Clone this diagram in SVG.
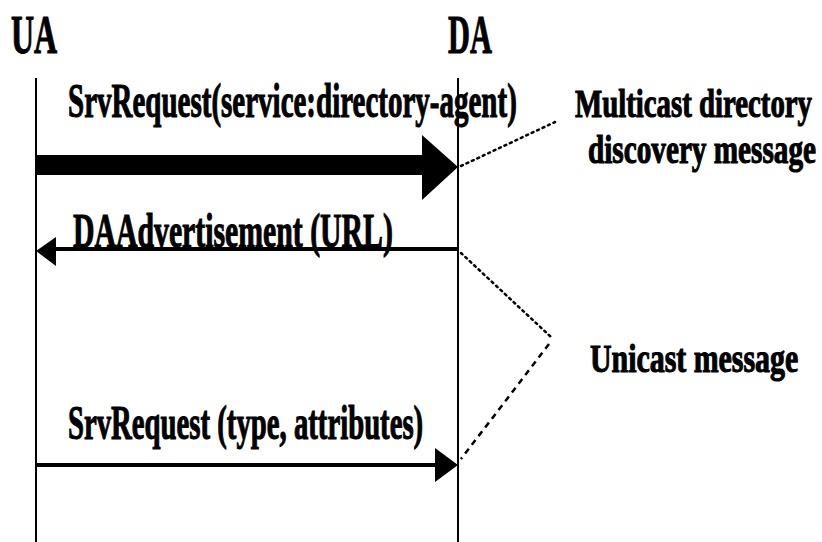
<svg xmlns="http://www.w3.org/2000/svg" width="822" height="542" viewBox="0 0 822 542">
  <style>
    text { font-family: "Liberation Serif", "Times New Roman", serif; font-weight: bold; fill: #000; stroke: #000; stroke-width: 1.1; }
    .actor { font-size: 54px; }
    .msg { font-size: 48px; }
    .note { font-size: 40px; }
    .life { stroke: #000; stroke-width: 2; fill: none; }
    .dot { stroke: #000; stroke-width: 2.5; fill: none; stroke-dasharray: 2 4; stroke-linecap: round; }
    .dash { stroke: #000; stroke-width: 2.5; fill: none; stroke-dasharray: 6 5; }
  </style>

  <rect width="822" height="542" fill="#fff"/>

  <!-- participants (labels are condensed horizontally to 60%) -->
  <g id="ua">
    <text class="actor" transform="translate(11,53) scale(0.6,1)" textLength="77" lengthAdjust="spacingAndGlyphs">UA</text>
    <line class="life" x1="36" y1="78" x2="36" y2="542"/>
  </g>
  <g id="da">
    <text class="actor" transform="translate(448,53) scale(0.6,1)" textLength="73" lengthAdjust="spacingAndGlyphs">DA</text>
    <line class="life" x1="458" y1="78" x2="458" y2="542"/>
  </g>

  <!-- messages -->
  <g id="connectors">
    <!-- multicast SrvRequest: thick arrow -->
    <path d="M36,155 H422 V135 L458,167 L422,200 V175 H36 Z" fill="#000"/>
    <!-- DAAdvertisement reply -->
    <line x1="458" y1="249" x2="54" y2="249" stroke="#000" stroke-width="4"/>
    <path d="M36,251 L56,237 L56,266 Z" fill="#000"/>
    <!-- unicast SrvRequest -->
    <line x1="36" y1="465" x2="437" y2="465" stroke="#000" stroke-width="4"/>
    <path d="M435,448 L458,465 L435,482 Z" fill="#000"/>
    <!-- callout leaders -->
    <path class="dot" d="M461,166 L555,122"/>
    <path class="dot" d="M461,253 L551,337"/>
    <path class="dash" d="M549,344 L461,459"/>
  </g>

  <g id="msg-srvrequest-da">
    <text class="msg" transform="translate(68,117) scale(0.6,1)" textLength="748" lengthAdjust="spacingAndGlyphs">SrvRequest(service:directory-agent)</text>
  </g>
  <g id="msg-daadvert">
    <text class="msg" transform="translate(73,247) scale(0.6,1)" textLength="533" lengthAdjust="spacingAndGlyphs">DAAdvertisement (URL)</text>
  </g>
  <g id="msg-srvrequest-type">
    <text class="msg" transform="translate(68,439) scale(0.6,1)" textLength="592" lengthAdjust="spacingAndGlyphs">SrvRequest (type, attributes)</text>
  </g>

  <!-- annotations -->
  <g id="note-multicast">
    <text class="note" transform="translate(575,117) scale(0.6,1)" textLength="395" lengthAdjust="spacingAndGlyphs">Multicast directory</text>
    <text class="note" transform="translate(588,163) scale(0.6,1)" textLength="380" lengthAdjust="spacingAndGlyphs">discovery message</text>
  </g>
  <g id="note-unicast">
    <text class="note" transform="translate(590,372) scale(0.6,1)" textLength="347" lengthAdjust="spacingAndGlyphs">Unicast message</text>
  </g>
</svg>
